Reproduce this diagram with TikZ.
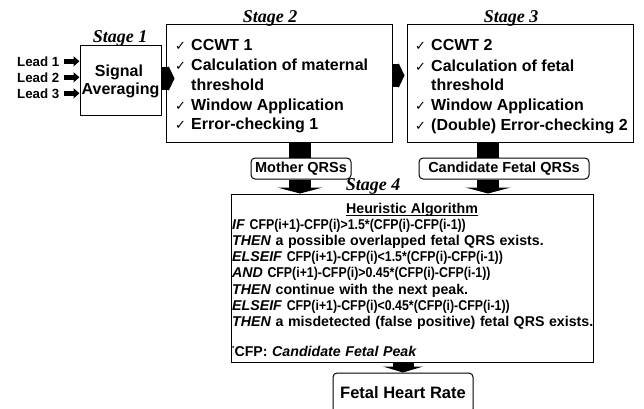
\documentclass[tikz,border=0pt]{standalone}
\usepackage{graphicx}
\usepackage{fontspec}
\setmainfont{Liberation Sans}
\newfontfamily\stagefont{Liberation Serif}
\newfontfamily\symfont{DejaVu Sans}
\newfontfamily\algfont{Liberation Sans}[WordSpace=1.15]
\usetikzlibrary{arrows.meta}
\newcommand\ck{\makebox[16pt][l]{\symfont\mdseries\fontsize{13}{14}\selectfont ✓}}
\newcommand\fx[1]{\scalebox{0.87}[1]{#1}}
\tikzset{
  box/.style={draw, line width=1pt, inner sep=0pt},
  rbox/.style={draw, line width=1pt, rounded corners=4pt, inner sep=0pt},
  stagelbl/.style={anchor=base, inner sep=0pt, font=\stagefont\bfseries\itshape\fontsize{18}{20}\selectfont},
  big/.style={anchor=base west, inner sep=0pt, font=\bfseries\fontsize{16}{18}\selectfont},
  alg/.style={anchor=base west, inner sep=0pt, font=\algfont\bfseries\fontsize{14.2}{16}\selectfont},
  leadlbl/.style={anchor=west, inner sep=0pt, font=\bfseries\fontsize{13.3}{15}\selectfont},
  leadarr/.style={line width=5.5pt, -{Triangle[length=6pt,width=10pt]}},
  harr/.style={line width=23pt, -{Triangle[length=6pt,width=25pt]}},
  varr/.style={line width=22pt, -{Triangle[length=6pt,width=45pt]}},
  vbar/.style={line width=22pt},
}
\begin{document}
\begin{tikzpicture}[x=1pt,y=-1pt]
\clip (0,0) rectangle (644,408);
% stage boxes
\node[box, minimum width=81pt, minimum height=70pt] (s1) at (120.5,80) {};
\node[box, minimum width=226pt, minimum height=118pt] (s2) at (279,83) {};
\node[box, minimum width=226pt, minimum height=118pt] (s3) at (520,83) {};
\node[box, minimum width=362pt, minimum height=168pt] (s4) at (412,278) {};
% stage labels
\node[stagelbl] (t1) at (120,42.5) {Stage 1};
\node[stagelbl] (t2) at (270,22.5) {Stage 2};
\node[stagelbl] (t3) at (511,22.5) {Stage 3};
\node[stagelbl] (t4) at (373,190) {Stage 4};
% leads
\node[leadlbl] (l1) at (17,61.3) {Lead 1};
\node[leadlbl] (l2) at (17,77.3) {Lead 2};
\node[leadlbl] (l3) at (17,93.3) {Lead 3};
\foreach \i in {1,2,3}{
  \draw[leadarr] ([xshift=4pt]l\i.east) -- (l\i.east -| s1.west);
}
% stage 1 text
\node[anchor=base, inner sep=0pt, font=\bfseries\fontsize{16}{18}\selectfont] (sig) at (119,76) {Signal};
\node[anchor=base, inner sep=0pt, font=\bfseries\fontsize{16}{18}\selectfont] (avg) at (120.5,94) {Averaging};
% stage 2 text
\node[big] (a1) at (175,50) {\ck CCWT 1};
\node[big] (a2) at (175,70.5) {\ck Calculation of maternal};
\node[big] (a3) at (191,90) {threshold};
\node[big] (a4) at (175,110) {\ck Window Application};
\node[big] (a5) at (175,129.5) {\ck Error-checking 1};
% stage 3 text
\node[big] (b1) at (415,50.5) {\ck CCWT 2};
\node[big] (b2) at (415,71) {\ck Calculation of fetal};
\node[big] (b3) at (431,90.5) {threshold};
\node[big] (b4) at (415,110.5) {\ck Window Application};
\node[big] (b5) at (415,130) {\ck (Double) Error-checking 2};
% horizontal arrows
\coordinate (p12) at ([yshift=1.5pt]s1.east);
\coordinate (q12) at ([xshift=13pt]p12);
\draw[harr] (p12) -- (q12);
\coordinate (p23) at ([yshift=7.5pt]s2.east);
\coordinate (q23) at ([xshift=12pt]p23);
\draw[harr] (p23) -- (q23);
% QRS boxes
\node[rbox, minimum width=100pt, minimum height=21pt, font=\bfseries\fontsize{14.5}{16}\selectfont] (mq) at (301,168.5) {Mother QRSs};
\node[rbox, minimum width=170pt, minimum height=21pt, font=\bfseries\fontsize{14.5}{16}\selectfont] (cq) at (504,168.5) {Candidate Fetal QRSs};
\coordinate (mx) at ([xshift=-1pt]mq.north);
\coordinate (cx) at ([xshift=-16pt]cq.north);
\draw[vbar] (mx |- s2.south) -- (mx);
\draw[vbar] (cx |- s3.south) -- (cx);
\draw[varr] (mq.south -| mx) -- (mx |- s4.north);
\draw[varr] (cq.south -| cx) -- (cx |- s4.north);
% stage 4 text
\node[anchor=base, inner sep=0pt, font=\bfseries\fontsize{14.2}{16}\selectfont] (h) at (412,213) {Heuristic Algorithm};
\draw[line width=1.1pt] ([yshift=-2.5pt]h.base west) -- ([yshift=-2.5pt]h.base east);
\node[alg] (c1) at (232,229) {\textit{IF} \fx{CFP(i+1)-CFP(i)>1.5*(CFP(i)-CFP(i-1))}};
\node[alg] (c2) at (232,245.5) {\textit{THEN} a possible overlapped fetal QRS exists.};
\node[alg] (c3) at (232,261.5) {\textit{ELSEIF} \fx{CFP(i+1)-CFP(i)<1.5*(CFP(i)-CFP(i-1))}};
\node[alg] (c4) at (232,277.5) {\textit{AND} \fx{CFP(i+1)-CFP(i)>0.45*(CFP(i)-CFP(i-1))}};
\node[alg] (c5) at (232,294) {\textit{THEN} continue with the next peak.};
\node[alg] (c6) at (232,310) {\textit{ELSEIF} \fx{CFP(i+1)-CFP(i)<0.45*(CFP(i)-CFP(i-1))}};
\node[alg] (c7) at (232,326.5) {\textit{THEN} a misdetected (false positive) fetal QRS exists.};
\node[alg] (c8) at (232,356.5) {\raisebox{6pt}{\fontsize{6}{7}\selectfont *}CFP: \textit{Candidate Fetal Peak}};
% output
\node[rbox, minimum width=140pt, minimum height=40pt, font=\bfseries\fontsize{16.5}{18}\selectfont] (fhr) at (403,393) {Fetal Heart Rate};
\draw[line width=21pt, -{Triangle[length=6pt,width=40pt]}] (fhr.north |- s4.south) -- (fhr.north);
\end{tikzpicture}
\end{document}
